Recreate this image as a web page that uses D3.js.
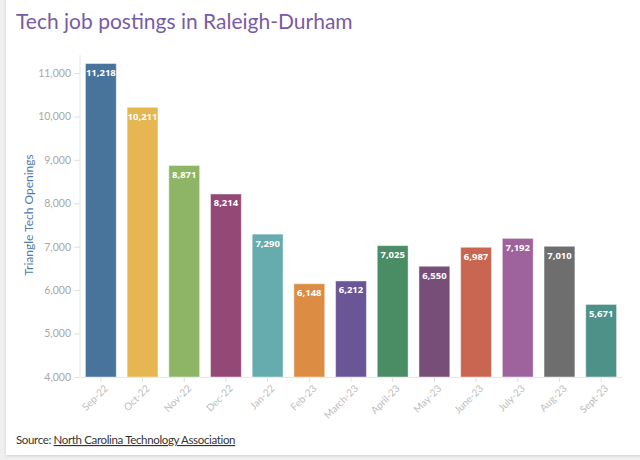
<!DOCTYPE html>
<html>
<head>
<meta charset="utf-8">
<script src="https://cdn.jsdelivr.net/npm/d3@7"></script>
<style>
  html, body { margin: 0; padding: 0; background: #efefef; }
  svg { display: block; font-family: "Source Sans Pro", Lato, "Open Sans", sans-serif; }
</style>
</head>
<body>
<div id="chart"></div>
<script>
// data
var months = ["Sep-22", "Oct-22", "Nov-22", "Dec-22", "Jan-22", "Feb-23", "March-23",
  "April-23", "May-23", "June-23", "July-23", "Aug-23", "Sept-23"];
var openings = [11218, 10211, 8871, 8214, 7290, 6148, 6212, 7025, 6550, 6987, 7192, 7010, 5671];
var barColors = ["#48739b", "#e5b652", "#8db565", "#934876", "#66abad", "#dc8c43", "#6a5697",
  "#4a8c64", "#774e78", "#c96652", "#9e629c", "#6e6e6e", "#4d9189"];
var yTicks = [4000, 5000, 6000, 7000, 8000, 9000, 10000, 11000];

var width = 640, height = 460;

var svg = d3.select("#chart")
  .append("svg")
  .attr("width", width)
  .attr("height", height);

// card background
var defs = svg.append("defs");
var f = defs.append("filter").attr("id", "shadow")
  .attr("x", "-5%").attr("y", "-5%").attr("width", "110%").attr("height", "110%");
f.append("feDropShadow").attr("dx", 0).attr("dy", 1).attr("stdDeviation", 1.5)
  .attr("flood-color", "#000").attr("flood-opacity", 0.12);

svg.append("rect")
  .attr("x", 6).attr("y", -10)
  .attr("width", width).attr("height", 465)
  .attr("fill", "#fff")
  .attr("filter", "url(#shadow)");

// title
svg.append("text")
  .attr("x", 16).attr("y", 29)
  .attr("fill", "#7a5aa6")
  .attr("font-size", 21)
  .text("Tech job postings in Raleigh-Durham");

var x = d3.scaleBand()
  .domain(months)
  .range([80, 622])
  .paddingInner(0.26)
  .paddingOuter(0.13);

var y = d3.scaleLinear()
  .domain([4000, 11000])
  .range([377, 73]);

// y axis
var yAxis = svg.append("g")
  .attr("transform", "translate(80,0)")
  .call(d3.axisLeft(y).tickValues(yTicks).tickFormat(d3.format(",")).tickSize(6).tickPadding(3));
yAxis.select(".domain").attr("stroke", "#e6e6e6").attr("d", "M0,55V377");
yAxis.selectAll(".tick line").attr("stroke", "#e0e0e0");
yAxis.selectAll(".tick text")
  .attr("fill", "#a8a8a8")
  .attr("font-size", 10.5)
  .attr("font-family", "Lato, sans-serif");

// x axis
var xAxis = svg.append("g")
  .attr("transform", "translate(0,377)")
  .call(d3.axisBottom(x).tickSize(5).tickSizeOuter(0));
xAxis.select(".domain").attr("stroke", "#e6e6e6");
xAxis.selectAll(".tick line").attr("stroke", "#e0e0e0");
xAxis.selectAll(".tick text")
  .attr("fill", "#bdbdbd")
  .attr("font-size", 10)
  .attr("font-family", "Lato, sans-serif")
  .attr("text-anchor", "end")
  .attr("dx", "-0.3em")
  .attr("dy", "0.6em")
  .attr("transform", "rotate(-45)");

// y axis title
svg.append("text")
  .attr("transform", "translate(33,215) rotate(-90)")
  .attr("text-anchor", "middle")
  .attr("fill", "#4f7cab")
  .attr("font-size", 12)
  .attr("font-family", "Lato, sans-serif")
  .text("Triangle Tech Openings");

// bars
var bars = svg.append("g").selectAll("g")
  .data(months)
  .enter()
  .append("g");

bars.append("rect")
  .attr("x", function (d) { return x(d); })
  .attr("width", x.bandwidth())
  .attr("y", function (d, i) { return y(openings[i]); })
  .attr("height", function (d, i) { return y(4000) - y(openings[i]); })
  .attr("fill", function (d, i) { return barColors[i]; })
  .attr("stroke", "rgba(255,255,255,0.45)")
  .attr("stroke-width", 1);

bars.append("text")
  .attr("x", function (d) { return x(d) + x.bandwidth() / 2; })
  .attr("y", function (d, i) { return y(openings[i]) + 12.5; })
  .attr("text-anchor", "middle")
  .attr("fill", "#fff")
  .attr("font-weight", "bold")
  .attr("font-size", 9.5)
  .attr("font-family", "'Open Sans', sans-serif")
  .text(function (d, i) { return d3.format(",")(openings[i]); });

// source line
var src = svg.append("text")
  .attr("x", 16).attr("y", 444)
  .attr("font-size", 11.5)
  .attr("letter-spacing", -0.35)
  .attr("fill", "#333");
src.append("tspan").text("Source: ");
src.append("tspan").attr("text-decoration", "underline").text("North Carolina Technology Association");
</script>
</body>
</html>
